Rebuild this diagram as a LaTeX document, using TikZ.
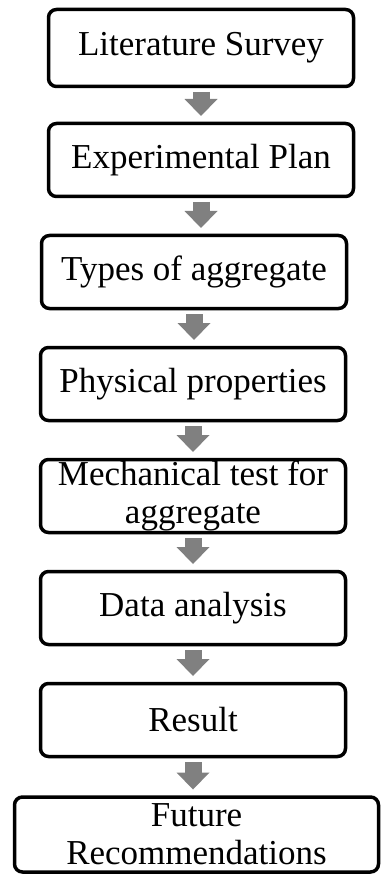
\documentclass[tikz,border=0pt]{standalone}
\usepackage{fontspec}
\setmainfont{Liberation Serif}
\usepackage{xcolor}
\usepackage{tikz}
\usetikzlibrary{arrows.meta, positioning}
\definecolor{flowgray}{RGB}{128,128,128}

\begin{document}
\begin{tikzpicture}[
    x=1pt, y=1pt,
    node distance=35.5pt,
    box/.style={rectangle, draw, line width=3.5pt, rounded corners=8pt, minimum width=305pt, minimum height=73pt, inner xsep=4pt, inner ysep=0pt, align=center, font=\fontsize{35}{38}\selectfont},
    arrow/.style={-{Triangle[width=33pt, length=17pt, line width=0pt]}, line width=17pt, flowgray, shorten <=3.75pt, shorten >=5.75pt}
]
\useasboundingbox (0,0) rectangle (383,-874);

% Steps
\node[box, minimum height=77pt] (survey) at (201,-48) {Literature Survey};
\node[box, below=33.5pt of survey] (plan) {Experimental Plan};
\node[box, below=of plan, xshift=-7pt] (types) {Types of aggregate};
\node[box, below=of types, xshift=-1pt] (physical) {Physical properties};
\node[box, below=of physical] (mech) {Mechanical test for\\aggregate};
\node[box, below=of mech] (data) {Data analysis};
\node[box, below=of data] (result) {Result};
\node[box, below=37pt of result, xshift=3.5pt, minimum width=364pt, minimum height=75pt] (future) {Future\\Recommendations};

% Arrows
\draw[arrow] (survey.south) -- (survey.south |- plan.north);
\draw[arrow] (plan.south) -- (plan.south |- types.north);
\draw[arrow] (types.south) -- (types.south |- physical.north);
\draw[arrow] (physical.south) -- (physical.south |- mech.north);
\draw[arrow] (mech.south) -- (mech.south |- data.north);
\draw[arrow] (data.south) -- (data.south |- result.north);
\draw[arrow] (result.south) -- (result.south |- future.north);

\end{tikzpicture}
\end{document}
